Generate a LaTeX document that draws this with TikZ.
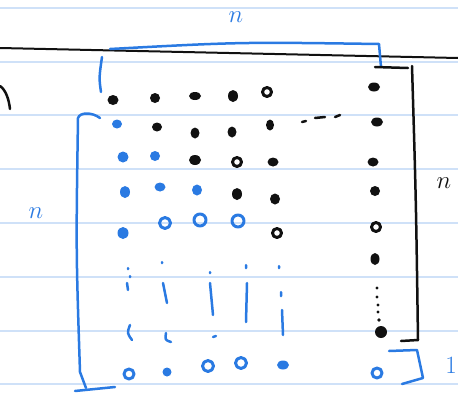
\documentclass[tikz,border=0pt]{standalone}
\usepackage{tikz}
\usetikzlibrary{positioning}
\definecolor{inkblue}{HTML}{2A7AE2}
\definecolor{ruleblue}{HTML}{CFE1F8}
\definecolor{inkblack}{HTML}{111111}
\begin{document}
\begin{tikzpicture}[
    x=1pt, y=-1pt,
    rule/.style={ruleblue, line width=1.6pt},
    pen/.style={line width=2.5pt, line cap=round, line join=round},
    bluepen/.style={pen, inkblue},
    blackpen/.style={pen, inkblack},
    sizetext/.style={font=\fontsize{26}{26}\selectfont, inner sep=0pt}
]
    \useasboundingbox (0,0) rectangle (458,402);

    %% ruled paper
    \foreach \y in {8,62,115,169,223,277,331,384}
        \draw[rule] (0,\y) -- (458,\y);

    %% black line over the page and curve at the left
    \draw[blackpen, line width=2pt] (0,48) -- (458,58);
    \draw[blackpen] (0,86) .. controls (6,90) and (9,100) .. (10,109);

    %% top brace, n columns
    \draw[bluepen] (101,92) .. controls (99,78) .. (102,57);
    \draw[bluepen] (110,49) .. controls (240,42) .. (379,44) -- (381,67);
    \node[sizetext, inkblue] (ntop) at (236,17) {$n$};

    %% right bracket, n rows
    \draw[blackpen] (375,67) -- (408,68);
    \draw[blackpen] (412,66) .. controls (416,200) .. (418,340);
    \draw[blackpen] (401,341) -- (418,340);
    \node[sizetext, inkblack] (nright) at (444,183) {$n$};

    %% left bracket, n rows
    \draw[bluepen] (100,118) .. controls (92,112) and (80,112) .. (78,118)
        .. controls (76,250) .. (80,372) -- (86,388);
    \draw[bluepen] (75,391) -- (115,387);
    \node[sizetext, inkblue] (nleft) at (36,213) {$n$};

    %% small bracket, 1 row
    \draw[bluepen] (389,351) -- (417,350) -- (423,378) -- (402,384);
    \node[sizetext, inkblue] (none) at (451,365) {$1$};

    %% black entries
    \fill[inkblack] (113,100) ellipse (5.5 and 5) (155,98) ellipse (5 and 5)
        (195,96) ellipse (6 and 4) (233,96) ellipse (5 and 6)
        (374,87) ellipse (6 and 4.5)
        (157,127) ellipse (5 and 4.5) (195,133) ellipse (4.5 and 5.5)
        (232,132) ellipse (4.5 and 5.5) (270,125) ellipse (4 and 5.5)
        (377,122) ellipse (6 and 4.5)
        (195,160) ellipse (6 and 5) (273,162) ellipse (5.5 and 4.5)
        (373,162) ellipse (5.5 and 4.5)
        (237,194) ellipse (5 and 6) (275,199) ellipse (5 and 5.5)
        (375,191) ellipse (5 and 5)
        (375,259) ellipse (4.5 and 6)
        (381,332) ellipse (6 and 6);
    \draw[blackpen, line width=3pt] (267,92) circle (4.5)
        (237,162) circle (4.5) (277,233) circle (4.5)
        (376,227) circle (4.5);
    \draw[blackpen] (302,122) -- (306,121) (315,118) -- (325,117) (335,117) -- (340,115);
    \fill[inkblack] (377,288) circle (1.6) (377,297) circle (1.6)
        (378,305) circle (1.6) (378,312) circle (1.6) (379,320) circle (1.8);

    %% blue entries
    \fill[inkblue] (117,124) ellipse (5 and 4.5)
        (123,157) ellipse (5.5 and 5.5) (155,156) ellipse (5 and 5)
        (125,192) ellipse (5 and 6) (160,187) ellipse (5.5 and 4.5)
        (197,190) ellipse (5 and 5.5)
        (123,233) ellipse (5.5 and 6)
        (167,372) ellipse (4.5 and 4.5) (283,365) ellipse (6 and 4.5);
    \draw[bluepen, line width=3pt] (165,223) circle (5.5) (200,220) circle (6)
        (238,221) circle (6)
        (129,374) circle (5) (208,366) circle (5.5) (241,363) circle (5.5)
        (377,373) circle (5);

    %% blue vertical dots
    \draw[bluepen] (128,268) -- (128,269) (130,276) -- (130,277) (127,283) -- (128,290)
        (130,325) .. controls (127,333) .. (132,340);
    \draw[bluepen] (162,262) -- (162,263) (163,283) -- (167,303)
        (166,333) .. controls (165,340) .. (171,342);
    \draw[bluepen] (210,272) -- (210,273) (210,283) -- (213,315) (213,337) -- (216,336);
    \draw[bluepen] (246,265) -- (246,268) (247,283) -- (246,322);
    \draw[bluepen] (279,266) -- (279,268) (281,292) -- (281,296) (282,310) -- (283,335);
\end{tikzpicture}
\end{document}
